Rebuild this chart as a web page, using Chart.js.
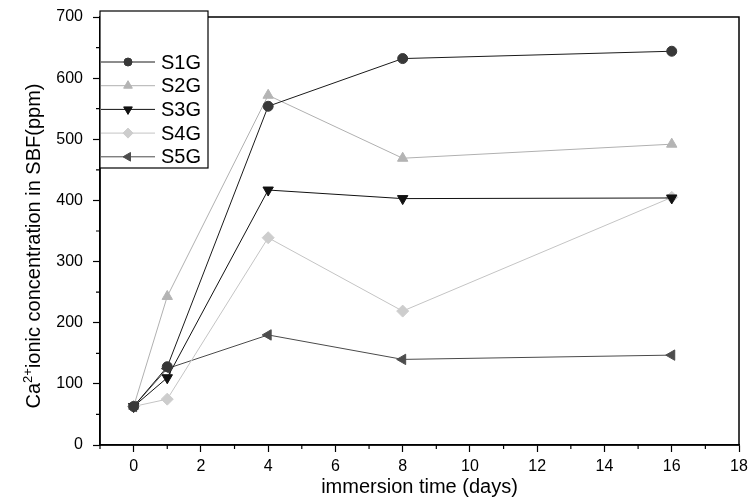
<!DOCTYPE html>
<html>
<head>
<meta charset="UTF-8">
<script src="https://cdn.jsdelivr.net/npm/chart.js"></script>
<style>
  html, body { margin: 0; padding: 0; background: #fff; }
  #wrap { width: 752px; height: 502px; }
</style>
</head>
<body>
<div id="wrap"><canvas id="caChart"></canvas></div>
<script>
const days = [0, 1, 4, 8, 16];
const seriesNames = ["S1G", "S2G", "S3G", "S4G", "S5G"];
const s1g = [63, 128, 554, 632, 644];
const s2g = [63, 243, 572, 469, 492];
const s3g = [63, 110, 417, 403, 404];
const s4g = [63, 75, 339, 219, 405];
const s5g = [63, 125, 180, 140, 147];

const FONT = "'Liberation Sans', Arial, sans-serif";

const styles = [
    { line: "#1a1a1a", fill: "#383838", point: "circle", rot: 0, r: 5 },
    { line: "#b0b0b0", fill: "#b4b4b4", point: "triangle", rot: 0, r: 6 },
    { line: "#111", fill: "#111", point: "triangle", rot: 180, r: 6 },
    { line: "#c4c4c4", fill: "#cdcdcd", point: "rectRot", rot: 0, r: 6 },
    { line: "#4a4a4a", fill: "#4d4d4d", point: "triangle", rot: -90, r: 6 }
];
const allValues = [s1g, s2g, s3g, s4g, s5g];

const datasets = allValues.map((vals, i) => ({
    label: seriesNames[i],
    data: days.map((d, k) => ({ x: d, y: vals[k] })),
    borderColor: styles[i].line,
    backgroundColor: styles[i].fill,
    pointBackgroundColor: styles[i].fill,
    pointBorderColor: styles[i].fill,
    pointStyle: styles[i].point,
    pointRotation: styles[i].rot,
    pointRadius: styles[i].r,
    borderWidth: 1,
    tension: 0
}));

// frame, minor ticks, y title and legend box
const framePlugin = {
    id: "frame",
    afterDraw(chart) {
        const { ctx, chartArea: a, scales } = chart;
        ctx.save();
        ctx.strokeStyle = "#000";
        ctx.lineWidth = 1.5;
        ctx.strokeRect(a.left, a.top, a.right - a.left, a.bottom - a.top);
        ctx.lineWidth = 1.2;
        ctx.beginPath();
        for (let v = -1; v <= 17; v += 2) {
            const px = scales.x.getPixelForValue(v);
            ctx.moveTo(px, a.bottom); ctx.lineTo(px, a.bottom + 4);
        }
        for (let v = 50; v < 700; v += 100) {
            const py = scales.y.getPixelForValue(v);
            ctx.moveTo(a.left, py); ctx.lineTo(a.left - 4, py);
        }
        ctx.stroke();

        // y axis title with superscript
        ctx.save();
        ctx.translate(40, 246);
        ctx.rotate(-Math.PI / 2);
        ctx.fillStyle = "#000";
        ctx.textBaseline = "alphabetic";
        ctx.font = "20px " + FONT;
        const part1 = "Ca", sup = "2+", part2 = "ionic concentration in SBF(ppm)";
        const w1 = ctx.measureText(part1).width;
        const w3 = ctx.measureText(part2).width;
        ctx.font = "13px " + FONT;
        const w2 = ctx.measureText(sup).width;
        const total = w1 + w2 + w3;
        let x = -total / 2;
        ctx.font = "20px " + FONT;
        ctx.fillText(part1, x, 0); x += w1;
        ctx.font = "13px " + FONT;
        ctx.fillText(sup, x, -8); x += w2;
        ctx.font = "20px " + FONT;
        ctx.fillText(part2, x, 0);
        ctx.restore();

        // legend
        const lx = 100, ly = 11, lw = 108, lh = 157;
        ctx.fillStyle = "#fff";
        ctx.fillRect(lx, ly, lw, lh);
        ctx.lineWidth = 1.2;
        ctx.strokeStyle = "#000";
        ctx.strokeRect(lx, ly, lw, lh);
        ctx.font = "20px " + FONT;
        ctx.textBaseline = "middle";
        chart.data.datasets.forEach((ds, i) => {
            const y = 62 + i * 23.7;
            ctx.lineWidth = 1;
            ctx.strokeStyle = ds.borderColor;
            ctx.beginPath();
            ctx.moveTo(lx + 1, y); ctx.lineTo(lx + 55, y);
            ctx.stroke();
            ctx.fillStyle = ds.pointBackgroundColor;
            ctx.strokeStyle = ds.pointBorderColor;
            Chart.helpers.drawPoint(ctx, {
                pointStyle: ds.pointStyle, rotation: ds.pointRotation,
                radius: ds.pointRadius - 1, borderWidth: 1
            }, lx + 28, y);
            ctx.fillStyle = "#000";
            ctx.fillText(ds.label, lx + 61, y + 1);
        });
        ctx.restore();
    }
};

new Chart(document.getElementById("caChart"), {
    type: "line",
    data: { datasets },
    plugins: [framePlugin],
    options: {
        responsive: true,
        maintainAspectRatio: false,
        animation: false,
        layout: { padding: { top: 17, right: 13, left: 0, bottom: 0 } },
        plugins: { legend: { display: false }, tooltip: { enabled: false } },
        scales: {
            x: {
                type: "linear",
                min: -1, max: 18,
                afterFit(scale) { scale.height = 57; scale.paddingLeft = 0; scale.paddingRight = 0; },
                afterBuildTicks(scale) {
                    scale.ticks = [];
                    for (let v = 0; v <= 18; v += 2) scale.ticks.push({ value: v });
                },
                grid: { drawOnChartArea: false, tickLength: 7, tickColor: "#000", tickWidth: 1.2 },
                border: { color: "#000", width: 1.5 },
                ticks: { color: "#000", padding: 5, font: { family: FONT, size: 16 } },
                title: {
                    display: true, text: "immersion time (days)", color: "#000",
                    padding: { top: 0, bottom: 3 },
                    font: { family: FONT, size: 20 }
                }
            },
            y: {
                min: 0, max: 700,
                afterFit(scale) { scale.width = 100; scale.paddingTop = 0; scale.paddingBottom = 0; },
                ticks: { stepSize: 100, color: "#000", padding: 10, font: { family: FONT, size: 16 } },
                grid: { drawOnChartArea: false, tickLength: 7, tickColor: "#000", tickWidth: 1.2 },
                border: { color: "#000", width: 1.5 }
            }
        }
    }
});
</script>
</body>
</html>
